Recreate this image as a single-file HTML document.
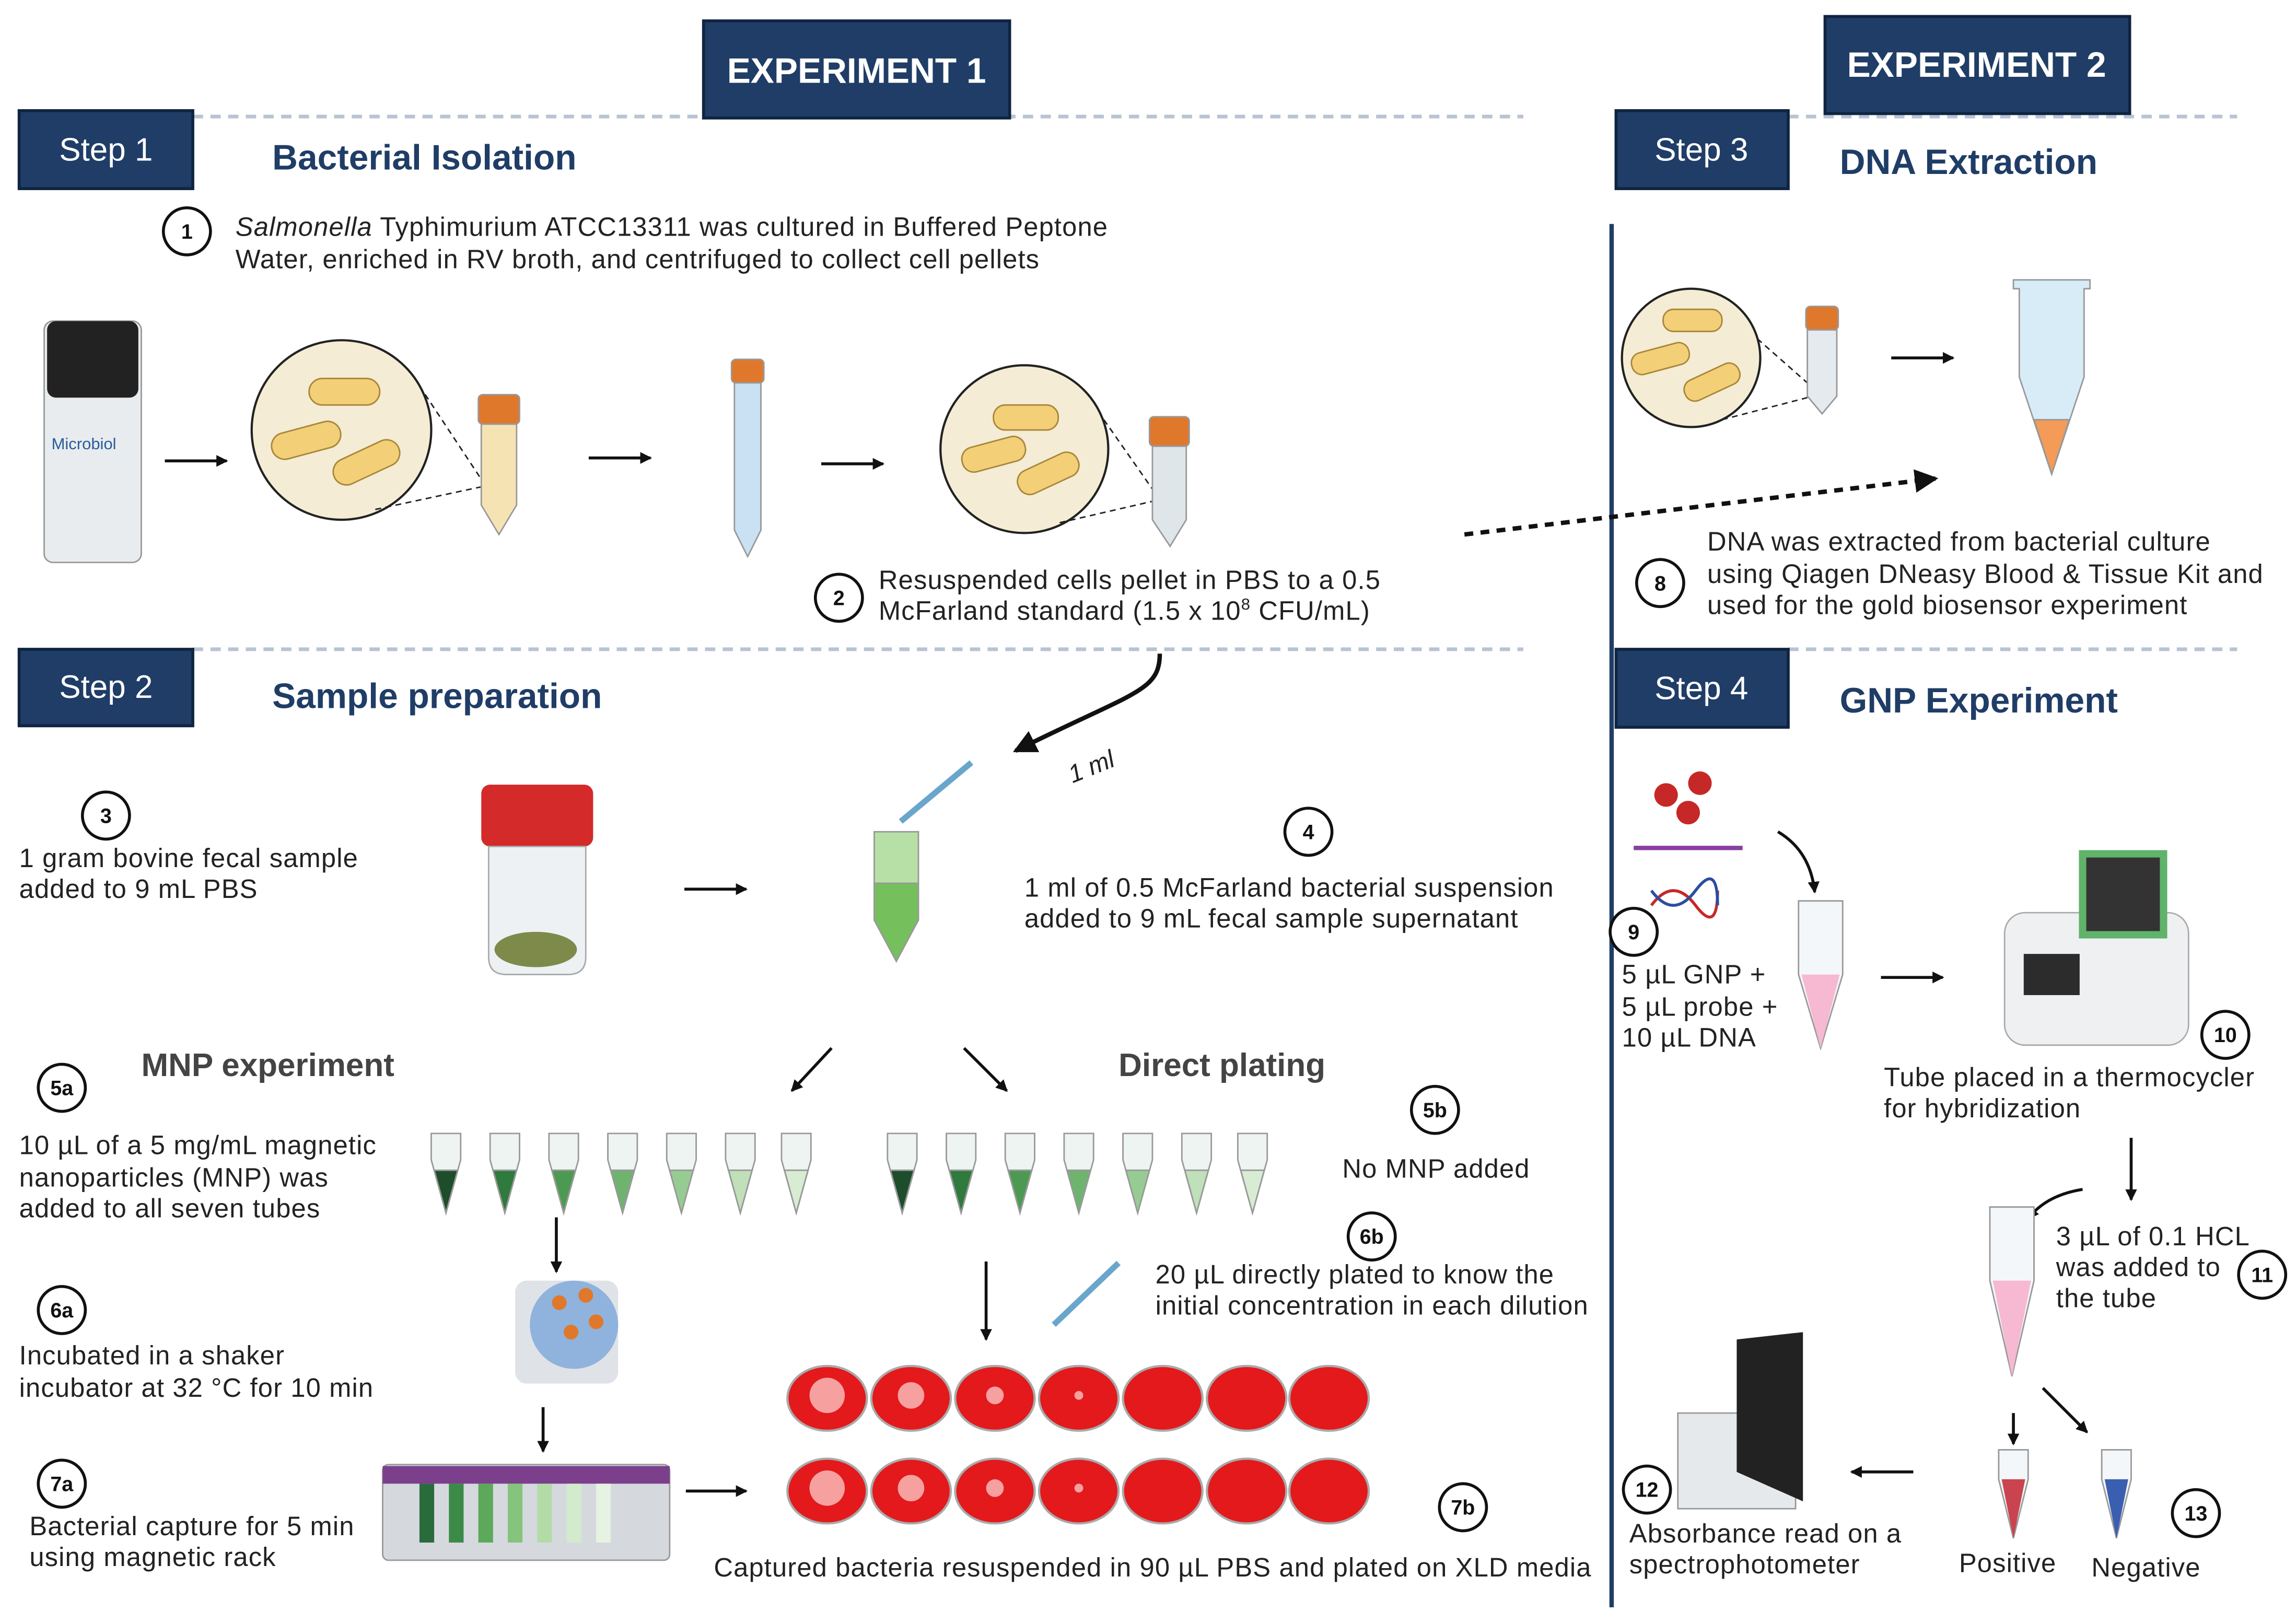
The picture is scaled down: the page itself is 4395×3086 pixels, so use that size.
<!DOCTYPE html>
<html><head><meta charset="utf-8"><style>
html,body{margin:0;padding:0;background:#fff;}
svg{display:block;}
text{font-family:"Liberation Sans",sans-serif;}
.t{font-size:18px;letter-spacing:0.4px;fill:#222;}
.h{font-size:24px;font-weight:bold;fill:#1f3d66;}
.n{font-size:14px;font-weight:bold;fill:#111;text-anchor:middle;}
.sb{fill:#1f3d66;stroke:#0f2440;stroke-width:2;}
.st{font-size:22px;fill:#fff;text-anchor:middle;}
.dash{stroke:#b8c4d4;stroke-width:2.5;stroke-dasharray:7,5;}
.ar{stroke:#111;stroke-width:2;fill:none;marker-end:url(#a);}
</style></head><body>
<svg width="4395" height="3086" viewBox="0 0 1560 1095" xmlns="http://www.w3.org/2000/svg">
<defs>
<marker id="a" markerWidth="8" markerHeight="8" refX="7" refY="4" orient="auto" markerUnits="userSpaceOnUse"><path d="M0,0 L8,4 L0,8 z" fill="#111"/></marker>
<marker id="b" markerWidth="16" markerHeight="16" refX="14" refY="8" orient="auto" markerUnits="userSpaceOnUse"><path d="M0,0 L16,8 L0,16 z" fill="#111"/></marker>
</defs>
<!-- dashed lines -->
<line class="dash" x1="131" y1="79" x2="1035" y2="79"/>
<line class="dash" x1="1215" y1="79" x2="1520" y2="79"/>
<line class="dash" x1="131" y1="441" x2="1035" y2="441"/>
<line class="dash" x1="1215" y1="441" x2="1520" y2="441"/>
<line x1="1095" y1="152" x2="1095" y2="1092" stroke="#1f3d66" stroke-width="3"/>
<!-- headers -->
<rect class="sb" x="478" y="14" width="208" height="66"/><text x="582" y="56" text-anchor="middle" font-size="24" font-weight="bold" fill="#fff">EXPERIMENT 1</text>
<rect class="sb" x="1240" y="11" width="207" height="66"/><text x="1343" y="52" text-anchor="middle" font-size="24" font-weight="bold" fill="#fff">EXPERIMENT 2</text>
<rect class="sb" x="13" y="75" width="118" height="53"/><text class="st" x="72" y="109">Step 1</text>
<rect class="sb" x="13" y="441" width="118" height="52"/><text class="st" x="72" y="474">Step 2</text>
<rect class="sb" x="1098" y="75" width="117" height="53"/><text class="st" x="1156" y="109">Step 3</text>
<rect class="sb" x="1098" y="441" width="117" height="53"/><text class="st" x="1156" y="475">Step 4</text>
<text class="h" x="185" y="115">Bacterial Isolation</text>
<text class="h" x="185" y="481">Sample preparation</text>
<text class="h" x="1250" y="118">DNA Extraction</text>
<text class="h" x="1250" y="484">GNP Experiment</text>
<!-- circles numbers -->
<g fill="#fff" stroke="#111" stroke-width="2">
<circle cx="127" cy="157" r="16"/><circle cx="570" cy="406" r="16"/><circle cx="72" cy="554" r="16"/><circle cx="889" cy="565" r="16"/>
<circle cx="42" cy="739" r="16"/><circle cx="975" cy="754" r="16"/><circle cx="42" cy="890" r="16"/><circle cx="932" cy="840" r="16"/>
<circle cx="42" cy="1008" r="16"/><circle cx="994" cy="1024" r="16"/><circle cx="1128" cy="396" r="16"/><circle cx="1110" cy="633" r="16"/>
<circle cx="1512" cy="703" r="16"/><circle cx="1537" cy="866" r="16"/><circle cx="1119" cy="1012" r="16"/><circle cx="1492" cy="1028" r="16"/>
</g>
<text class="n" x="127" y="162">1</text><text class="n" x="570" y="411">2</text><text class="n" x="72" y="559">3</text><text class="n" x="889" y="570">4</text>
<text class="n" x="42" y="744">5a</text><text class="n" x="975" y="759">5b</text><text class="n" x="42" y="895">6a</text><text class="n" x="932" y="845">6b</text>
<text class="n" x="42" y="1013">7a</text><text class="n" x="994" y="1029">7b</text><text class="n" x="1128" y="401">8</text><text class="n" x="1110" y="638">9</text>
<text class="n" x="1512" y="708">10</text><text class="n" x="1537" y="871">11</text><text class="n" x="1119" y="1017">12</text><text class="n" x="1492" y="1033">13</text>
<!-- texts -->
<text class="t" x="160" y="160"><tspan font-style="italic">Salmonella</tspan> Typhimurium ATCC13311 was cultured in Buffered Peptone</text>
<text class="t" x="160" y="182">Water, enriched in RV broth, and centrifuged to collect cell pellets</text>
<text class="t" x="597" y="400">Resuspended cells pellet in PBS to a 0.5</text>
<text class="t" x="597" y="421">McFarland standard (1.5 x 10<tspan font-size="11" dy="-7">8</tspan><tspan dy="7"> CFU/mL)</tspan></text>
<text class="t" x="13" y="589">1 gram bovine fecal sample</text><text class="t" x="13" y="610">added to 9 mL PBS</text>
<text class="t" x="696" y="609">1 ml of 0.5 McFarland bacterial suspension</text><text class="t" x="696" y="630">added to 9 mL fecal sample supernatant</text>
<text x="96" y="731" font-size="22" font-weight="bold" fill="#444">MNP experiment</text>
<text x="760" y="731" font-size="22" font-weight="bold" fill="#444">Direct plating</text>
<text class="t" x="13" y="784">10 µL of a 5 mg/mL magnetic</text><text class="t" x="13" y="806">nanoparticles (MNP) was</text><text class="t" x="13" y="827">added to all seven tubes</text>
<text class="t" x="912" y="800">No MNP added</text>
<text class="t" x="13" y="927">Incubated in a shaker</text><text class="t" x="13" y="949">incubator at 32 °C for 10 min</text>
<text class="t" x="785" y="872">20 µL directly  plated to know the</text><text class="t" x="785" y="893">initial concentration in each dilution</text>
<text class="t" x="20" y="1043">Bacterial capture for 5 min</text><text class="t" x="20" y="1064">using magnetic rack</text>
<text class="t" x="485" y="1071">Captured bacteria resuspended in 90 µL PBS and plated on XLD media</text>
<text class="t" x="1160" y="374">DNA was extracted from bacterial culture</text><text class="t" x="1160" y="396">using Qiagen DNeasy Blood &amp; Tissue Kit and</text><text class="t" x="1160" y="417">used for the gold biosensor experiment</text>
<text class="t" x="1102" y="668">5 µL GNP +</text><text class="t" x="1102" y="690">5 µL probe +</text><text class="t" x="1102" y="711">10 µL DNA</text>
<text class="t" x="1280" y="738">Tube placed in a thermocycler</text><text class="t" x="1280" y="759">for hybridization</text>
<text class="t" x="1397" y="846">3 µL of 0.1 HCL</text><text class="t" x="1397" y="867">was added to</text><text class="t" x="1397" y="888">the tube</text>
<text class="t" x="1107" y="1048">Absorbance read on a</text><text class="t" x="1107" y="1069">spectrophotometer</text>
<text class="t" x="1331" y="1068">Positive</text><text class="t" x="1421" y="1071">Negative</text>
<text x="725" y="527" font-size="17" font-style="italic" fill="#222" transform="rotate(-22 740 520)">1 ml</text>
<!-- arrows -->
<line class="ar" x1="112" y1="313" x2="154" y2="313"/>
<line class="ar" x1="400" y1="311" x2="442" y2="311"/>
<line class="ar" x1="558" y1="315" x2="600" y2="315"/>
<line class="ar" x1="1285" y1="243" x2="1327" y2="243"/>
<line x1="995" y1="363" x2="1315" y2="325" stroke="#111" stroke-width="3" stroke-dasharray="6,5" marker-end="url(#b)"/>
<path d="M788,444 C788,470 770,470 690,510" stroke="#111" stroke-width="3" fill="none" marker-end="url(#b)"/>
<line class="ar" x1="465" y1="604" x2="507" y2="604"/>
<line class="ar" x1="565" y1="712" x2="538" y2="741"/>
<line class="ar" x1="655" y1="712" x2="684" y2="741"/>
<line class="ar" x1="378" y1="827" x2="378" y2="864"/>
<line class="ar" x1="369" y1="956" x2="369" y2="986"/>
<line class="ar" x1="670" y1="857" x2="670" y2="910"/>
<line class="ar" x1="466" y1="1013" x2="507" y2="1013"/>
<line class="ar" x1="1278" y1="664" x2="1320" y2="664"/>
<line class="ar" x1="1448" y1="773" x2="1448" y2="815"/>
<line class="ar" x1="1300" y1="1000" x2="1258" y2="1000"/>
<line class="ar" x1="1368" y1="960" x2="1368" y2="981"/>
<line class="ar" x1="1388" y1="943" x2="1418" y2="973"/>
<path d="M1208,565 Q1230,578 1233,606" class="ar" stroke-width="3"/>
<path d="M1415,808 Q1390,812 1378,828" class="ar" stroke-width="3"/>
<!-- vial -->
<rect x="30" y="218" width="66" height="164" rx="6" fill="#e8ecef" stroke="#999"/>
<rect x="32" y="218" width="62" height="52" rx="6" fill="#222"/>
<text x="35" y="305" font-size="11" fill="#2b5b9a">Microbiol</text>
<!-- big bacteria circles -->
<g fill="#f4ecd4" stroke="#222" stroke-width="1.5"><circle cx="232" cy="292" r="61"/><circle cx="696" cy="305" r="57"/><circle cx="1149" cy="243" r="47"/></g>
<g fill="#f3cf78" stroke="#a8863a">
<rect x="210" y="257" width="48" height="18" rx="9"/><rect x="184" y="290" width="48" height="18" rx="9" transform="rotate(-15 208 299)"/><rect x="225" y="305" width="48" height="18" rx="9" transform="rotate(-25 249 314)"/>
<rect x="675" y="275" width="44" height="17" rx="8"/><rect x="653" y="300" width="44" height="17" rx="8" transform="rotate(-15 675 308)"/><rect x="690" y="313" width="44" height="17" rx="8" transform="rotate(-25 712 321)"/>
<rect x="1130" y="210" width="40" height="15" rx="7"/><rect x="1108" y="236" width="40" height="15" rx="7" transform="rotate(-15 1128 243)"/><rect x="1143" y="252" width="40" height="15" rx="7" transform="rotate(-25 1163 259)"/>
</g>
<g stroke="#222" stroke-dasharray="4,3"><line x1="285" y1="262" x2="330" y2="330"/><line x1="255" y1="346" x2="330" y2="330"/><line x1="750" y1="285" x2="785" y2="335"/><line x1="720" y1="355" x2="785" y2="340"/><line x1="1194" y1="230" x2="1228" y2="260"/><line x1="1170" y1="285" x2="1228" y2="270"/></g>
<!-- falcon tubes -->
<g stroke="#999" stroke-width="1">
<rect x="325" y="268" width="28" height="20" rx="3" fill="#e0782c"/><path d="M327,288 h24 v55 l-12,20 l-12,-20z" fill="#f6e3b4"/>
<rect x="497" y="244" width="22" height="16" rx="3" fill="#e0782c"/><path d="M499,260 h18 v100 l-9,18 l-9,-18z" fill="#c9e1f2"/>
<rect x="781" y="283" width="27" height="20" rx="3" fill="#e0782c"/><path d="M783,303 h23 v50 l-11,18 l-12,-18z" fill="#dfe6ea"/>
<rect x="1227" y="208" width="22" height="16" rx="3" fill="#e0782c"/><path d="M1228,224 h20 v45 l-10,12 l-10,-12z" fill="#e5eaee"/>
<path d="M1368,190 h52 v6 h-4 v60 l-22,66 l-22,-66 v-60 h-4z" fill="#d8ecf8"/><path d="M1382,285 h24 l-12,37z" fill="#f39b57"/>
<path d="M594,565 h30 v60 l-15,28 l-15,-28z" fill="#b7e0a6"/><path d="M594,600 h30 v25 l-15,28 l-15,-28z" fill="#76bf5d"/>
</g>
<line x1="612" y1="558" x2="660" y2="518" stroke="#6aa6cc" stroke-width="4"/>
<!-- fecal jar -->
<rect x="327" y="533" width="76" height="42" rx="6" fill="#d42a2a"/>
<path d="M332,575 h66 v75 q0,12 -12,12 h-42 q-12,0 -12,-12z" fill="#eef1f3" stroke="#aaa"/>
<ellipse cx="364" cy="645" rx="28" ry="12" fill="#7d8a4a"/>
<!-- small tubes -->
<g stroke="#999">
<g fill="#eef4f2">
<path d="M293,770 h20 v18 l-10,36 l-10,-36z"/><path d="M333,770 h20 v18 l-10,36 l-10,-36z"/><path d="M373,770 h20 v18 l-10,36 l-10,-36z"/><path d="M413,770 h20 v18 l-10,36 l-10,-36z"/><path d="M453,770 h20 v18 l-10,36 l-10,-36z"/><path d="M493,770 h20 v18 l-10,36 l-10,-36z"/><path d="M531,770 h20 v18 l-10,36 l-10,-36z"/>
<path d="M603,770 h20 v18 l-10,36 l-10,-36z"/><path d="M643,770 h20 v18 l-10,36 l-10,-36z"/><path d="M683,770 h20 v18 l-10,36 l-10,-36z"/><path d="M723,770 h20 v18 l-10,36 l-10,-36z"/><path d="M763,770 h20 v18 l-10,36 l-10,-36z"/><path d="M803,770 h20 v18 l-10,36 l-10,-36z"/><path d="M841,770 h20 v18 l-10,36 l-10,-36z"/>
</g>
<path d="M295,795 h16 l-8,29z" fill="#1e4d2b"/><path d="M335,795 h16 l-8,29z" fill="#2f7a3d"/><path d="M375,795 h16 l-8,29z" fill="#4c9a52"/><path d="M415,795 h16 l-8,29z" fill="#6eb46f"/><path d="M455,795 h16 l-8,29z" fill="#96cc92"/><path d="M495,795 h16 l-8,29z" fill="#bfe0b9"/><path d="M533,795 h16 l-8,29z" fill="#d8ecd4"/>
<path d="M605,795 h16 l-8,29z" fill="#1e4d2b"/><path d="M645,795 h16 l-8,29z" fill="#2f7a3d"/><path d="M685,795 h16 l-8,29z" fill="#4c9a52"/><path d="M725,795 h16 l-8,29z" fill="#6eb46f"/><path d="M765,795 h16 l-8,29z" fill="#96cc92"/><path d="M805,795 h16 l-8,29z" fill="#bfe0b9"/><path d="M843,795 h16 l-8,29z" fill="#d8ecd4"/>
</g>
<line x1="716" y1="900" x2="760" y2="858" stroke="#6aa6cc" stroke-width="4"/>
<!-- shaker -->
<rect x="350" y="870" width="70" height="70" rx="8" fill="#dfe3e8"/><circle cx="390" cy="900" r="30" fill="#8fb3dc"/>
<g fill="#e0782c"><circle cx="380" cy="885" r="5"/><circle cx="398" cy="880" r="5"/><circle cx="405" cy="898" r="5"/><circle cx="388" cy="905" r="5"/></g>
<!-- magnetic rack -->
<rect x="260" y="995" width="195" height="65" rx="4" fill="#d5d9de" stroke="#999"/>
<rect x="260" y="996" width="195" height="12" fill="#7b3f8c"/>
<g><rect x="285" y="1008" width="10" height="40" fill="#2a6b3c"/><rect x="305" y="1008" width="10" height="40" fill="#3b8a48"/><rect x="325" y="1008" width="10" height="40" fill="#5ca95a"/><rect x="345" y="1008" width="10" height="40" fill="#86c47d"/><rect x="365" y="1008" width="10" height="40" fill="#b2dba8"/><rect x="385" y="1008" width="10" height="40" fill="#d2ebcc"/><rect x="405" y="1008" width="10" height="40" fill="#e6f2e2"/></g>
<!-- petri -->
<g stroke="#aaa" stroke-width="1.5" fill="#e3191c">
<ellipse cx="562" cy="950" rx="27" ry="22"/><ellipse cx="619" cy="950" rx="27" ry="22"/><ellipse cx="676" cy="950" rx="27" ry="22"/><ellipse cx="733" cy="950" rx="27" ry="22"/><ellipse cx="790" cy="950" rx="27" ry="22"/><ellipse cx="847" cy="950" rx="27" ry="22"/><ellipse cx="903" cy="950" rx="27" ry="22"/>
<ellipse cx="562" cy="1013" rx="27" ry="22"/><ellipse cx="619" cy="1013" rx="27" ry="22"/><ellipse cx="676" cy="1013" rx="27" ry="22"/><ellipse cx="733" cy="1013" rx="27" ry="22"/><ellipse cx="790" cy="1013" rx="27" ry="22"/><ellipse cx="847" cy="1013" rx="27" ry="22"/><ellipse cx="903" cy="1013" rx="27" ry="22"/>
</g>
<g fill="#f6a0a0"><circle cx="562" cy="948" r="12"/><circle cx="619" cy="948" r="9"/><circle cx="676" cy="948" r="6"/><circle cx="733" cy="948" r="3"/><circle cx="562" cy="1011" r="12"/><circle cx="619" cy="1011" r="9"/><circle cx="676" cy="1011" r="6"/><circle cx="733" cy="1011" r="3"/></g>
<!-- GNP section -->
<g fill="#c62828"><circle cx="1132" cy="540" r="8"/><circle cx="1155" cy="532" r="8"/><circle cx="1147" cy="552" r="8"/></g>
<line x1="1110" y1="576" x2="1184" y2="576" stroke="#8a3fa0" stroke-width="3"/>
<path d="M1122,615 q15,-20 30,0 q15,20 15,-10" stroke="#c62828" stroke-width="2" fill="none"/><path d="M1122,605 q15,20 30,0 q15,-20 15,10" stroke="#2a4ea0" stroke-width="2" fill="none"/>
<path d="M1222,612 h30 v50 l-15,50 l-15,-50z" fill="#f4f7f9" stroke="#999"/><path d="M1224,662 h26 l-13,50z" fill="#f7b8d2"/>
<rect x="1362" y="620" width="125" height="90" rx="14" fill="#eef0f1" stroke="#aaa"/><rect x="1375" y="648" width="38" height="28" fill="#2c2c2c"/><rect x="1415" y="580" width="55" height="55" fill="#333" stroke="#5fb36a" stroke-width="5"/>
<path d="M1352,820 h30 v50 l-15,65 l-15,-65z" fill="#f4f7f9" stroke="#999"/><path d="M1354,870 h26 l-13,65z" fill="#f7b8d2"/>
<path d="M1358,985 h20 v20 l-10,40 l-10,-40z" fill="#f4f7f9" stroke="#999"/><path d="M1360,1005 h16 l-8,40z" fill="#c9444f"/>
<path d="M1428,985 h20 v20 l-10,40 l-10,-40z" fill="#f4f7f9" stroke="#999"/><path d="M1430,1005 h16 l-8,40z" fill="#3b5fb0"/>
<path d="M1140,960 h80 v65 h-80z" fill="#e6e9ec" stroke="#999"/><path d="M1180,910 l45,-5 v115 l-45,-20z" fill="#222"/>
</svg>
</body></html>
